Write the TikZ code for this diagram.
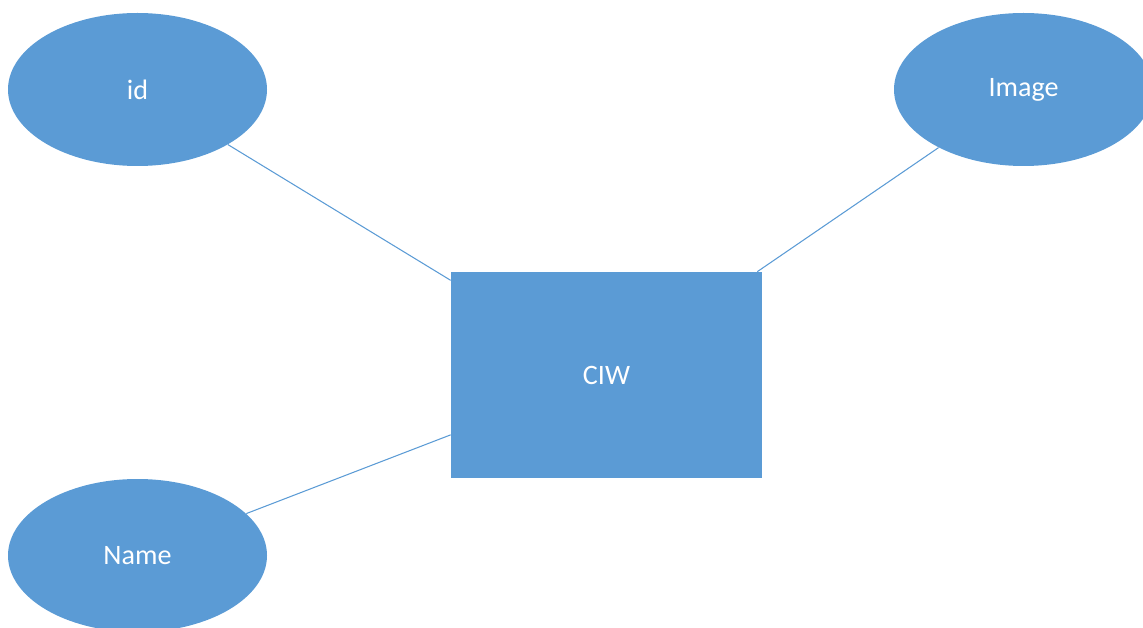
\documentclass[tikz,border=0pt]{standalone}
\usepackage{fontspec}
\setmainfont{Carlito}
\usetikzlibrary{shapes.geometric}
\definecolor{erblue}{HTML}{5B9BD5}
\tikzset{
  attr/.style={ellipse, fill=erblue, draw=none, minimum width=259\unitpx, minimum height=153\unitpx, inner sep=0pt, text=white, font=\fontsize{16}{19}\selectfont},
  entity/.style={rectangle, fill=erblue, draw=none, minimum width=311\unitpx, minimum height=206\unitpx, inner sep=0pt, text=white, font=\fontsize{16}{19}\selectfont},
  link/.style={draw=erblue, line width=0.6pt}
}
\newcommand{\unitpx}{*0.02cm}
\begin{document}
\begin{tikzpicture}[x=0.02cm, y=-0.02cm]
  \useasboundingbox (0,0) rectangle (1143,628);
  \clip (0,0) rectangle (1143,628);
  % entity and its attributes
  \node[entity] (ciw) at (606.5,375) {CIW};
  \node[attr] (id) at (137.5,89.5) {id};
  \node[attr] (image) at (1023.5,89.5) {Image};
  \node[attr] (name) at (137.5,555.5) {Name};
  % connectors
  \draw[link] (id) -- (ciw);
  \draw[link] (image) -- (ciw);
  \draw[link] (name) -- (ciw);
\end{tikzpicture}
\end{document}
